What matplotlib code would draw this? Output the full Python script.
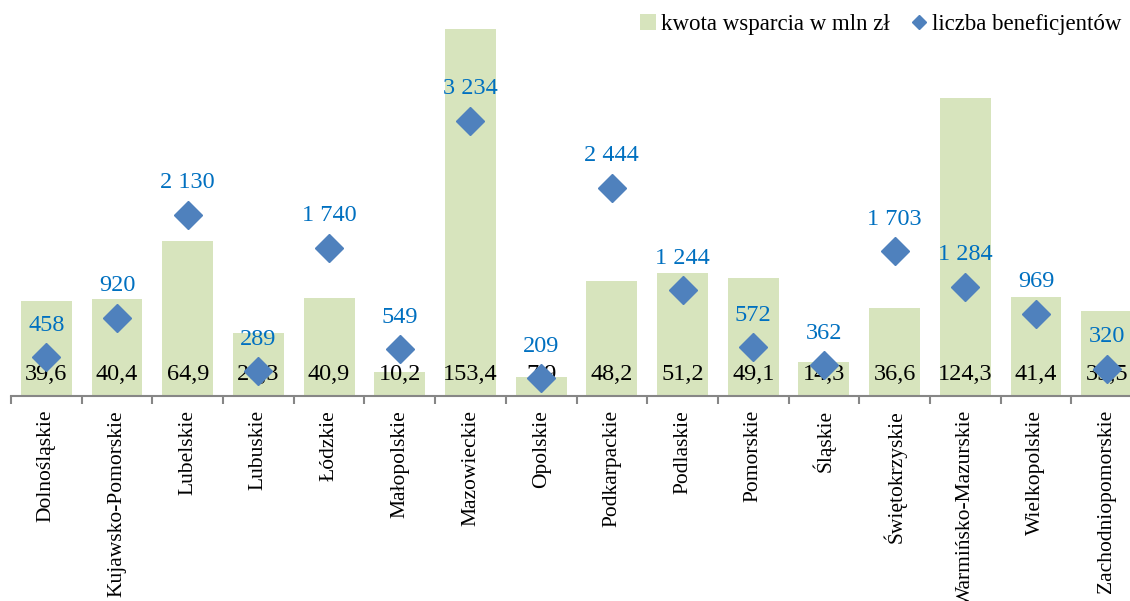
import matplotlib.pyplot as plt
import matplotlib.ticker as mticker
from matplotlib.lines import Line2D
from matplotlib.patches import Patch
import numpy as np

plt.rcParams['font.family'] = ['Liberation Serif', 'DejaVu Serif']

regions = ['Dolnośląskie', 'Kujawsko-Pomorskie', 'Lubelskie', 'Lubuskie', 'Łódzkie',
           'Małopolskie', 'Mazowieckie', 'Opolskie', 'Podkarpackie', 'Podlaskie',
           'Pomorskie', 'Śląskie', 'Świętokrzyskie', 'Warmińsko-Mazurskie',
           'Wielkopolskie', 'Zachodniopomorskie']
kwota = [39.6, 40.4, 64.9, 26.3, 40.9, 10.2, 153.4, 7.9, 48.2, 51.2, 49.1, 14.3,
         36.6, 124.3, 41.4, 35.5]
beneficjenci = [458, 920, 2130, 289, 1740, 549, 3234, 209, 2444, 1244, 572, 362,
                1703, 1284, 969, 320]

bar_color = '#D7E4BD'
dot_color = '#4F81BD'
num_color = '#0070C0'

fig = plt.figure(figsize=(11.3, 6.01), dpi=100)
W, H = 1130, 601
ax = fig.add_axes([11 / W, (H - 396) / H, 1131 / W, 383 / H])
ax2 = ax.twinx()

x = np.arange(len(regions))
ax.bar(x, kwota, width=0.72, color=bar_color, zorder=1)
ax2.plot(x, beneficjenci, linestyle='none', marker='D', markersize=14,
         color=dot_color, zorder=3)

ax.set_xlim(-0.5, len(regions) - 0.5)
ax.set_ylim(0, 160)
ax2.set_ylim(0, 4500)

# values of the bars sit near the base
for xi, v in zip(x, kwota):
    ax.annotate(f'{v:.1f}'.replace('.', ','), (xi, 0), xytext=(0, 21),
                textcoords='offset pixels', ha='center', va='center',
                fontsize=17.5, color='black', zorder=4)

# counts above the diamonds
for xi, v in zip(x, beneficjenci):
    ax2.annotate(f'{v:,}'.replace(',', ' '), (xi, v), xytext=(0, 32),
                 textcoords='offset pixels', ha='center', va='center',
                 fontsize=17.5, color=num_color, zorder=4)

for a in (ax, ax2):
    for s in ('top', 'right', 'left'):
        a.spines[s].set_visible(False)
    a.set_yticks([])
ax2.spines['bottom'].set_visible(False)
ax.spines['bottom'].set_color('#868686')
ax.spines['bottom'].set_linewidth(1.5)

ax.set_xticks(x)
ax.set_xticklabels(regions, rotation=90, fontsize=15.5)
ax.tick_params(axis='x', which='major', length=0, pad=10)
ax.xaxis.set_minor_locator(mticker.FixedLocator(np.arange(-0.5, len(regions), 1)))
ax.tick_params(axis='x', which='minor', length=6, width=1.5, color='#868686')

handles = [Patch(facecolor=bar_color, edgecolor='none'),
           Line2D([], [], linestyle='none', marker='D', markersize=7.5, color=dot_color)]
fig.legend(handles, ['kwota wsparcia w mln zł', 'liczba beneficjentów'],
           loc='upper right', bbox_to_anchor=(1131 / W, 1 - 5 / H), ncol=2,
           frameon=False, fontsize=16.5, handlelength=0.7, handleheight=0.7,
           handletextpad=0.25, columnspacing=0.9, borderaxespad=0)

fig.savefig('out.png', dpi=100)
